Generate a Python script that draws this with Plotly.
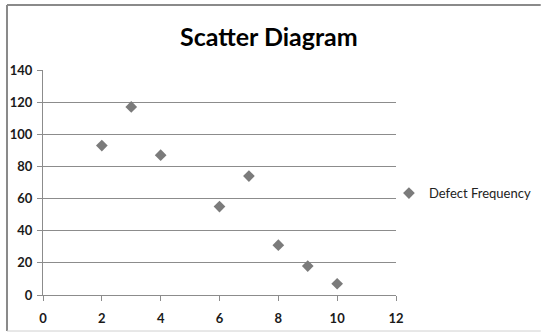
import plotly.graph_objects as go

# data
x_vals = [2, 3, 4, 6, 7, 8, 9, 10]
defect_freq = [93, 117, 87, 55, 74, 31, 18, 7]
series_name = 'Defect Frequency'

fig = go.Figure()
fig.add_trace(go.Scatter(x=x_vals, y=defect_freq, mode='markers', name=series_name,
                         marker=dict(symbol='diamond', size=9, color='#7b7b7b')))

fig.update_layout(
    width=541, height=333,
    margin=dict(l=43, r=145, t=70, b=38, autoexpand=False),
    paper_bgcolor='white', plot_bgcolor='white',
    font=dict(family='Lato, Open Sans, sans-serif', color='#1a1a1a'),
    title=dict(text='<b>Scatter Diagram</b>', x=0.497, xanchor='center', y=0.889, yanchor='middle',
               font=dict(size=25, color='#000000')),
    showlegend=True,
    legend=dict(x=0.98, y=0.453, xanchor='left', yanchor='middle', font=dict(size=13, color='#222222'),
                itemwidth=30, bgcolor='rgba(0,0,0,0)'),
    xaxis=dict(range=[0, 12], tickvals=[0, 2, 4, 6, 8, 10, 12], showgrid=False, zeroline=False,
               showline=True, linecolor='#8c8c8c', linewidth=1, automargin=False,
               ticks='outside', ticklen=5, tickcolor='#8c8c8c',
               tickfont=dict(size=13, color='#1a1a1a', weight='bold'), ticklabelstandoff=6),
    yaxis=dict(range=[0, 140], tickvals=[0, 20, 40, 60, 80, 100, 120, 140], showgrid=True,
               gridcolor='#8c8c8c', gridwidth=1, zeroline=False,
               showline=True, linecolor='#8c8c8c', linewidth=1, automargin=False,
               ticks='outside', ticklen=5, tickcolor='#8c8c8c',
               tickfont=dict(size=13, color='#1a1a1a', weight='bold'), ticklabelstandoff=2),
)

# outer frame like the spreadsheet screenshot
fig.add_shape(type='line', xref='paper', yref='paper', x0=-0.102, x1=1.41, y0=1.289, y1=1.289,
              line=dict(color='#8a8a8a', width=2))
fig.add_shape(type='line', xref='paper', yref='paper', x0=-0.102, x1=-0.102, y0=-0.16, y1=1.289,
              line=dict(color='#8a8a8a', width=2))
fig.add_shape(type='line', xref='paper', yref='paper', x0=-0.102, x1=1.41, y0=-0.16, y1=-0.16,
              line=dict(color='#d0d0d0', width=1))

# drop the browser's default page margin so the chart sits at the window edge
fig.write_html('out.html', config={'displayModeBar': False},
               post_script="document.body.style.margin='0';")
